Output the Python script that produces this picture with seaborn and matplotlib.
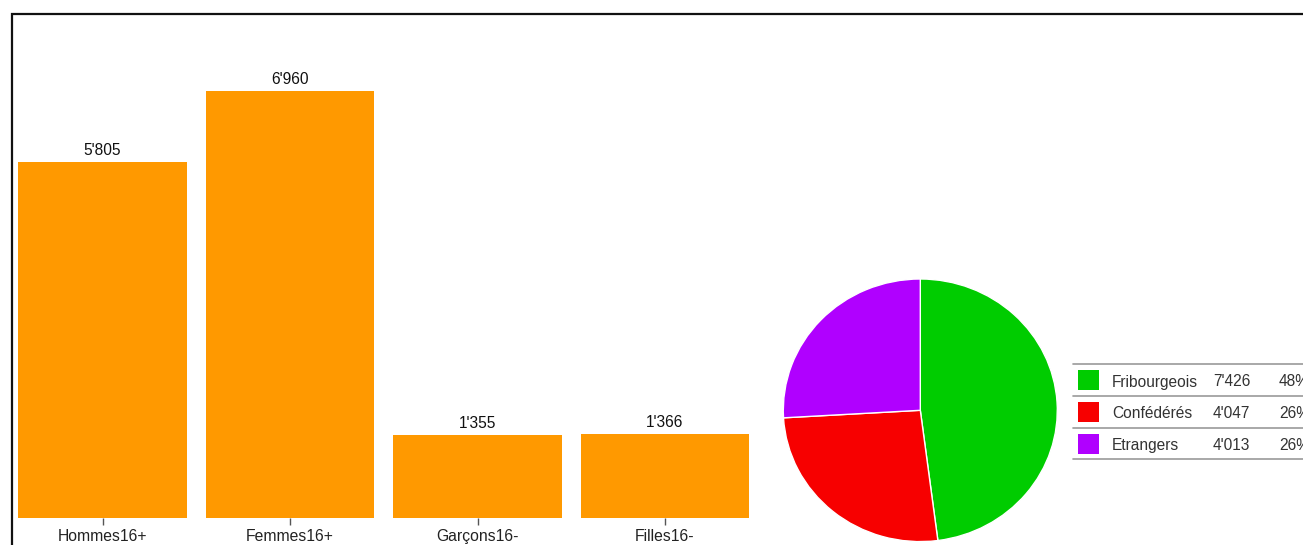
import matplotlib
matplotlib.use("Agg")
import matplotlib.pyplot as plt
from matplotlib.patches import Rectangle
from matplotlib.lines import Line2D
import seaborn as sns
import pandas as pd

# ---- data ----
categories = ["Hommes16+", "Femmes16+", "Garçons16-", "Filles16-"]
counts = [5805, 6960, 1355, 1366]
origin_labels = ["Fribourgeois", "Confédérés", "Etrangers"]
origin_values = [7426, 4047, 4013]
origin_colors = ["#00CC00", "#F70000", "#B000FF"]
bar_color = "#FF9900"

def fmt(v):
    return f"{v:,}".replace(",", "'")

sns.set_theme(style="white")
plt.rcParams["font.family"] = ["Liberation Sans", "DejaVu Sans"]

W, H = 1303, 545
fig = plt.figure(figsize=(W / 100, H / 100), dpi=100)

def px(l, t, r, b):
    return [l / W, (H - b) / H, (r - l) / W, (b - t) / H]

# ---- bar chart ----
ax = fig.add_axes(px(12, 14, 756, 518))
df = pd.DataFrame({"cat": categories, "n": counts})
sns.barplot(data=df, x="cat", y="n", color=bar_color, saturation=1, width=0.9, ax=ax)
for p in ax.patches:
    p.set_edgecolor("none")
ax.bar_label(ax.containers[0], labels=[fmt(v) for v in counts], padding=3,
             fontsize=11.2, color="#111111")
ax.set_xlim(-0.483, 3.485)
ax.set_ylim(0, 8215)
ax.set_xlabel("")
ax.set_ylabel("")
ax.set_yticks([])
for s in ax.spines.values():
    s.set_visible(False)
ax.tick_params(axis="x", bottom=True, length=5, width=1, color="#555555",
               pad=3, labelsize=11.3, labelcolor="#222222")

# ---- pie chart ----
pax = fig.add_axes(px(783.3, 279, 1057.3, 541.6))
pax.pie(origin_values, colors=origin_colors, startangle=90, counterclock=False,
        wedgeprops=dict(edgecolor="white", linewidth=1))
pax.set_aspect("auto")
pax.set_xlim(-1.0, 1.0)
pax.set_ylim(-1.0, 1.0)
pax.axis("off")

# ---- legend table ----
total = sum(origin_values)
row_lines = [364, 396, 428, 459]
for y in row_lines:
    fig.add_artist(Line2D([1073 / W, 1.0], [(H - y) / H] * 2, color="#999999", lw=1.2))
for i, (lab, val, col) in enumerate(zip(origin_labels, origin_values, origin_colors)):
    cy = (row_lines[i] + row_lines[i + 1]) / 2
    fig.add_artist(Rectangle((1078 / W, (H - (cy + 10)) / H), 21 / W, 20 / H,
                             facecolor=col, edgecolor="none"))
    yy = (H - (cy + 2)) / H
    fig.text(1112 / W, yy, lab, va="center", ha="left", fontsize=11.2, color="#333333")
    fig.text(1213 / W, yy, fmt(val), va="center", ha="left", fontsize=11.2, color="#333333")
    fig.text(1279 / W, yy, f"{round(100 * val / total)}%", va="center", ha="left",
             fontsize=11.2, color="#333333")

# ---- outer border (cropped) ----
fig.add_artist(Rectangle((12 / W, -0.1), 1.2, (H - 14) / H + 0.1, transform=fig.transFigure,
                         facecolor="none", edgecolor="#111111", lw=1.6, clip_on=False))

fig.savefig("out.png", dpi=100)
